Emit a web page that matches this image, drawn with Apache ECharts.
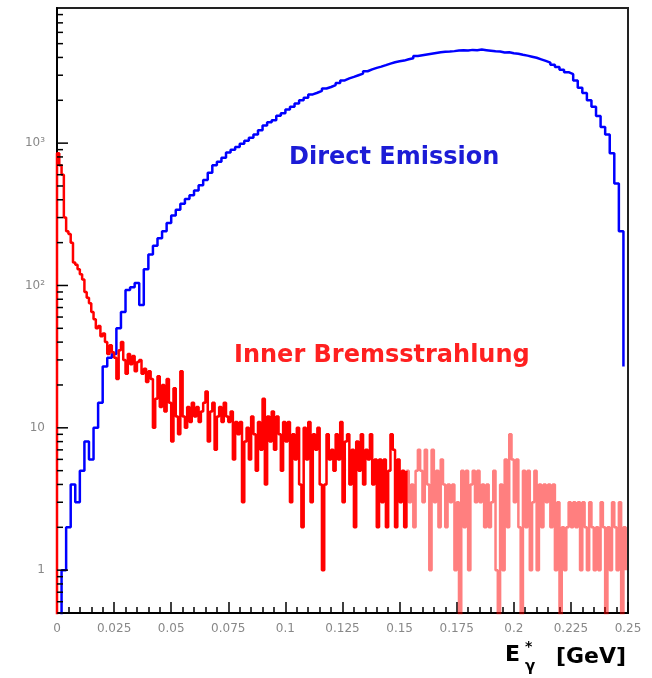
<!DOCTYPE html>
<html>
<head>
<meta charset="utf-8">
<script src="https://cdn.jsdelivr.net/npm/echarts@6/dist/echarts.min.js"></script>
<style>
  html, body { margin: 0; padding: 0; background: #fff; }
  #main { width: 652px; height: 678px; }
</style>
</head>
<body>
<div id="main"></div>
<script>
// Direct Emission (blue), bins of 0.002 GeV from 0
var blueBinWidth = 0.002;
var directEmission = [
  0, 1, 2, 4, 3, 5, 8, 6, 10, 15,
  27, 31, 33, 50, 65, 93, 97, 104, 73, 130,
  165, 190, 215, 240, 275, 310, 340, 375, 405, 430,
  465, 505, 550, 620, 700, 740, 790, 860, 900, 940,
  990, 1040, 1090, 1150, 1230, 1330, 1400, 1450, 1560, 1620,
  1720, 1800, 1900, 2000, 2080, 2200, 2260, 2330, 2420, 2480,
  2560, 2650, 2760, 2850, 2920, 3000, 3080, 3200, 3300, 3380,
  3450, 3530, 3620, 3700, 3760, 3800, 3880, 3950, 4100, 4150,
  4200, 4250, 4300, 4350, 4380, 4400, 4430, 4470, 4500, 4480,
  4520, 4500, 4540, 4500, 4460, 4420, 4400, 4330, 4350, 4280,
  4250, 4180, 4120, 4050, 3980, 3880, 3780, 3680, 3550, 3420,
  3280, 3150, 3050, 2750, 2450, 2250, 2000, 1800, 1550, 1300,
  1150, 850, 520, 240, 27
];

// Inner Bremsstrahlung (red), bins of 0.001 GeV from 0
var redBinWidth = 0.001;
var innerBrems = [
  850, 700, 600, 300, 240, 230, 200, 145, 140, 130,
  120, 110, 90, 82, 75, 65, 58, 50, 52, 44,
  46, 40, 33, 38, 34, 31, 22, 35, 40, 30,
  24, 33, 28, 32, 25, 29, 30, 24, 26, 21,
  25, 22, 10, 16, 23, 14, 20, 13, 22, 15,
  8, 19, 12, 9, 25, 12, 10, 14, 11, 15,
  12, 14, 11, 13, 15, 18, 8, 13, 15, 7,
  12, 14, 11, 15, 12, 11, 13, 6, 11, 9,
  11, 3, 8, 10, 6, 12, 9, 5, 11, 7,
  16, 4, 12, 8, 13, 7, 12, 9, 5, 11,
  8, 11, 3, 9, 6, 10, 4, 2, 10, 6,
  11, 3, 9, 7, 10, 4, 1, 4, 9, 6,
  7, 5, 9, 6, 11, 3, 8, 9, 4, 7,
  2, 8, 5, 9, 4, 7, 6, 9, 4, 6,
  2, 6, 3, 6, 2, 5, 9, 7, 2, 6,
  3, 5, 2, 5, 3, 4, 2, 5, 7, 5,
  3, 7, 4, 1, 7, 3, 5, 2, 6, 4,
  2, 4, 3, 4, 1, 3, 0, 5, 2, 5,
  1, 4, 5, 3, 5, 3, 4, 2, 4, 2,
  3, 5, 1, 0, 4, 1, 6, 2, 9, 6,
  3, 6, 2, 0, 5, 2, 5, 1, 3, 5,
  1, 4, 2, 4, 3, 4, 2, 4, 1, 3,
  0, 2, 1, 2, 3, 2, 3, 2, 3, 1,
  3, 2, 1, 3, 2, 1, 2, 1, 3, 2,
  0, 2, 1, 3, 2, 1, 3, 0, 2, 1
];
var fadeStart = 153; // red bins from here are drawn pale

var yLabels = { 1: '1', 10: '10', 100: '10²', 1000: '10³' };
var yMin = 0.5, yMax = 8900;
var FLOOR = 0.2; // empty bins go below the axis

function binPoints(counts, width, from, to) {
  var pts = [];
  for (var i = from; i <= to; i++) {
    pts.push([+(i * width).toFixed(4), counts[i] > 0 ? counts[i] : FLOOR]);
  }
  return pts;
}

// log minor ticks for the y axis
var yTicks = [];
[0.1, 1, 10, 100, 1000].forEach(function (d) {
  for (var m = 1; m <= 9; m++) {
    var v = +(m * d).toPrecision(3);
    if (v >= yMin && v <= yMax) yTicks.push([0, v, m === 1 ? 1 : 0]);
  }
});

var myChart = echarts.init(document.getElementById('main'));
var font = 'DejaVu Sans';
var option = {
  animation: false,
  grid: {
    left: 57, right: 24, top: 8, bottom: 65,
    show: true, borderColor: '#222', borderWidth: 2
  },
  xAxis: {
    type: 'value',
    min: 0, max: 0.25, interval: 0.025,
    axisLine: { onZero: false, lineStyle: { color: '#000', width: 2 } },
    axisTick: { inside: true, length: 11, lineStyle: { color: '#000', width: 1.5 } },
    minorTick: { show: true, splitNumber: 5, length: 6, lineStyle: { color: '#000', width: 1.5 } },
    splitLine: { show: false },
    axisLabel: { color: '#888', fontFamily: font, fontSize: 12, margin: 10 }
  },
  yAxis: {
    type: 'log',
    min: yMin, max: yMax,
    axisLine: { show: true, lineStyle: { color: '#000', width: 2 } },
    axisTick: { show: false },
    splitLine: { show: false },
    axisLabel: {
      color: '#888', fontFamily: font, fontSize: 12, margin: 12,
      formatter: function (v) {
        var e = Math.log10(v);
        if (Math.abs(e - Math.round(e)) > 1e-6) return '';
        return yLabels[Math.round(Math.pow(10, Math.round(e)))] || '';
      }
    }
  },
  series: [
    {
      type: 'line', step: 'end', symbol: 'none', clip: true,
      lineStyle: { color: '#0000ff', width: 2.5 },
      data: binPoints(directEmission, blueBinWidth, 0, directEmission.length - 1)
    },
    {
      type: 'line', step: 'end', symbol: 'none', clip: true,
      lineStyle: { color: '#ff0000', width: 2.5 },
      data: [[0, FLOOR]].concat(binPoints(innerBrems, redBinWidth, 0, fadeStart))
    },
    {
      type: 'line', step: 'end', symbol: 'none', clip: true,
      lineStyle: { color: '#ff0000', width: 2.5, opacity: 0.5 },
      data: binPoints(innerBrems, redBinWidth, fadeStart, innerBrems.length - 1)
    },
    {
      type: 'custom', silent: true, z: 5,
      data: yTicks,
      renderItem: function (params, api) {
        var p = api.coord([api.value(0), api.value(1)]);
        var len = api.value(2) ? 11 : 6;
        return {
          type: 'line',
          shape: { x1: p[0], y1: p[1], x2: p[0] + len, y2: p[1] },
          style: { stroke: '#000', lineWidth: 1.5 }
        };
      }
    }
  ],
  graphic: [
    { type: 'text', x: 289, y: 158, style: { text: 'Direct Emission', fill: '#1c1cd6', font: 'bold 24px DejaVu Sans', verticalAlign: 'middle' } },
    { type: 'text', x: 234, y: 356, style: { text: 'Inner Bremsstrahlung', fill: '#ff2020', font: 'bold 24px DejaVu Sans', verticalAlign: 'middle' } },
    { type: 'text', x: 505, y: 655, style: { text: 'E', fill: '#000', font: 'bold 22px DejaVu Sans', verticalAlign: 'middle' } },
    { type: 'text', x: 525, y: 647, style: { text: '*', fill: '#000', font: 'bold 14px DejaVu Sans', verticalAlign: 'middle' } },
    { type: 'text', x: 525, y: 667, style: { text: 'γ', fill: '#000', font: 'bold 15px DejaVu Sans', verticalAlign: 'middle' } },
    { type: 'text', x: 556, y: 657, style: { text: '[GeV]', fill: '#000', font: 'bold 22px DejaVu Sans', verticalAlign: 'middle' } }
  ]
};
myChart.setOption(option);
</script>
</body>
</html>
